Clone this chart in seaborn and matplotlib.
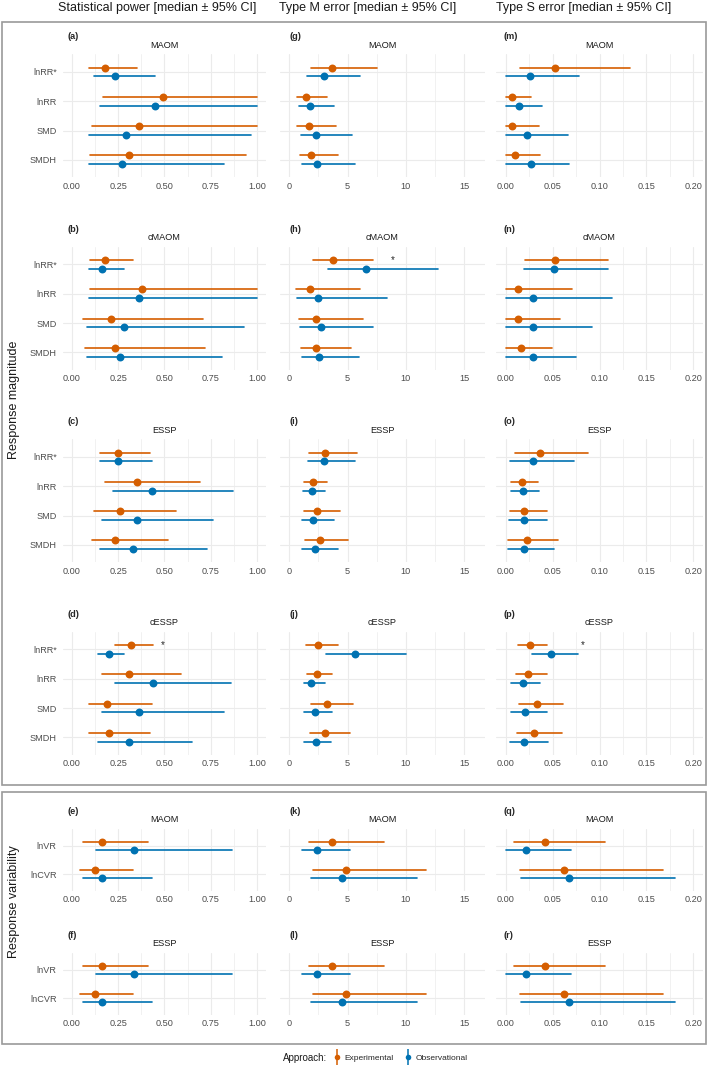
import pandas as pd
import matplotlib.pyplot as plt
from matplotlib.patches import Rectangle
from matplotlib.lines import Line2D
from matplotlib.ticker import MultipleLocator
import seaborn as sns

sns.set_style("white")
plt.rcParams["font.family"] = ["Liberation Sans", "DejaVu Sans"]

# y-axis categories
effects_mag = ["lnRR*", "lnRR", "SMD", "SMDH"]
effects_var = ["lnVR", "lnCVR"]
approaches = ["Experimental", "Observational"]
palette = {"Experimental": "#D55E00", "Observational": "#0072B2"}

# every entry: (median, lower 95% CI, upper 95% CI), one per effect size
# --- statistical power ---
pow_maom_exp = [(0.18, 0.09, 0.35), (0.49, 0.17, 1.00), (0.36, 0.11, 1.00), (0.31, 0.10, 0.94)]
pow_maom_obs = [(0.23, 0.12, 0.45), (0.45, 0.15, 1.00), (0.29, 0.09, 0.97), (0.27, 0.09, 0.82)]
pow_cmaom_exp = [(0.18, 0.10, 0.33), (0.38, 0.10, 1.00), (0.21, 0.06, 0.71), (0.23, 0.07, 0.72)]
pow_cmaom_obs = [(0.16, 0.09, 0.28), (0.36, 0.09, 1.00), (0.28, 0.08, 0.93), (0.26, 0.08, 0.81)]
pow_essp_exp = [(0.25, 0.15, 0.42), (0.35, 0.18, 0.69), (0.26, 0.12, 0.56), (0.23, 0.11, 0.52)]
pow_essp_obs = [(0.25, 0.15, 0.43), (0.43, 0.22, 0.87), (0.35, 0.16, 0.76), (0.33, 0.15, 0.73)]
pow_cessp_exp = [(0.32, 0.23, 0.44), (0.31, 0.16, 0.59), (0.19, 0.09, 0.43), (0.20, 0.09, 0.42)]
pow_cessp_obs = [(0.20, 0.14, 0.28), (0.44, 0.23, 0.86), (0.36, 0.16, 0.82), (0.31, 0.14, 0.65)]

# --- type M error ---
m_maom_exp = [(3.7, 1.9, 7.5), (1.4, 0.7, 3.2), (1.7, 0.7, 4.0), (1.9, 0.9, 4.2)]
m_maom_obs = [(3.0, 1.5, 6.1), (1.8, 0.8, 3.8), (2.3, 1.0, 5.4), (2.4, 1.1, 5.6)]
m_cmaom_exp = [(3.75, 2.0, 7.2), (1.8, 0.55, 6.1), (2.3, 0.8, 6.3), (2.25, 1.0, 5.3)]
m_cmaom_obs = [(6.55, 3.35, 12.8), (2.5, 0.7, 8.4), (2.7, 0.95, 7.2), (2.55, 1.1, 6.0)]
m_essp_exp = [(3.1, 1.7, 5.8), (2.0, 1.3, 3.2), (2.35, 1.25, 4.35), (2.6, 1.35, 5.0)]
m_essp_obs = [(3.0, 1.6, 5.6), (1.95, 1.2, 3.1), (2.05, 1.1, 3.85), (2.2, 1.1, 4.2)]
m_cessp_exp = [(2.45, 1.45, 4.2), (2.4, 1.55, 3.7), (3.25, 1.9, 5.45), (3.05, 1.75, 5.25)]
m_cessp_obs = [(5.6, 3.15, 10.0), (1.9, 1.25, 3.1), (2.2, 1.3, 3.7), (2.25, 1.3, 3.6)]

# --- type S error ---
s_maom_exp = [(0.053, 0.015, 0.133), (0.007, 0.0, 0.027), (0.007, 0.0, 0.035), (0.010, 0.0, 0.037)]
s_maom_obs = [(0.026, 0.0, 0.078), (0.014, 0.0, 0.039), (0.023, 0.0, 0.066), (0.027, 0.0, 0.067)]
s_cmaom_exp = [(0.053, 0.021, 0.109), (0.013, 0.0, 0.071), (0.013, 0.0, 0.058), (0.016, 0.0, 0.049)]
s_cmaom_obs = [(0.052, 0.020, 0.109), (0.029, 0.0, 0.113), (0.029, 0.0, 0.092), (0.029, 0.0, 0.075)]
s_essp_exp = [(0.037, 0.010, 0.088), (0.017, 0.006, 0.034), (0.020, 0.005, 0.044), (0.023, 0.003, 0.056)]
s_essp_obs = [(0.029, 0.005, 0.073), (0.018, 0.006, 0.036), (0.020, 0.004, 0.044), (0.020, 0.002, 0.051)]
s_cessp_exp = [(0.026, 0.013, 0.044), (0.024, 0.011, 0.044), (0.033, 0.014, 0.061), (0.030, 0.012, 0.060)]
s_cessp_obs = [(0.048, 0.028, 0.077), (0.018, 0.006, 0.037), (0.021, 0.006, 0.044), (0.020, 0.005, 0.045)]

# --- response variability (MAOM and ESSP panels show the same values) ---
pow_var_exp = [(0.16, 0.06, 0.41), (0.125, 0.045, 0.33)]
pow_var_obs = [(0.335, 0.13, 0.865), (0.16, 0.06, 0.43)]
m_var_exp = [(3.65, 1.7, 8.1), (4.85, 2.0, 11.7)]
m_var_obs = [(2.35, 1.1, 5.2), (4.55, 1.9, 11.0)]
s_var_exp = [(0.042, 0.009, 0.106), (0.062, 0.015, 0.168)]
s_var_obs = [(0.022, 0.0, 0.070), (0.067, 0.016, 0.181)]

# significant difference markers: (column, row, x value)
stars = [(0, 3, 0.49), (1, 1, 8.9), (2, 3, 0.082)]

col_titles = ["Statistical power [median \u00b1 95% CI]",
              "Type M error [median \u00b1 95% CI]",
              "Type S error [median \u00b1 95% CI]"]
mag_outcomes = ["MAOM", "cMAOM", "ESSP", "cESSP"]
var_outcomes = ["MAOM", "ESSP"]
tags = [["(a)", "(b)", "(c)", "(d)", "(e)", "(f)"],
        ["(g)", "(h)", "(i)", "(j)", "(k)", "(l)"],
        ["(m)", "(n)", "(o)", "(p)", "(q)", "(r)"]]

mag_data = [
    [(pow_maom_exp, pow_maom_obs), (pow_cmaom_exp, pow_cmaom_obs),
     (pow_essp_exp, pow_essp_obs), (pow_cessp_exp, pow_cessp_obs)],
    [(m_maom_exp, m_maom_obs), (m_cmaom_exp, m_cmaom_obs),
     (m_essp_exp, m_essp_obs), (m_cessp_exp, m_cessp_obs)],
    [(s_maom_exp, s_maom_obs), (s_cmaom_exp, s_cmaom_obs),
     (s_essp_exp, s_essp_obs), (s_cessp_exp, s_cessp_obs)],
]
var_data = [(pow_var_exp, pow_var_obs), (m_var_exp, m_var_obs), (s_var_exp, s_var_obs)]

# axis settings per column
xlims = [(-0.05, 1.05), (-0.8, 16.8), (-0.01, 0.21)]
xticks = [[0, 0.25, 0.5, 0.75, 1.0], [0, 5, 10, 15], [0, 0.05, 0.10, 0.15, 0.20]]
xfmt = ["{:.2f}", "{:.0f}", "{:.2f}"]
minor_step = [0.125, 2.5, 0.025]

W, H = 709, 1067
fig = plt.figure(figsize=(W / 100, H / 100), dpi=100)


def px_axes(left, top, width, height):
    return fig.add_axes([left / W, 1 - (top + height) / H, width / W, height / H])


def ftext(x, y, s, **kw):
    return fig.text(x / W, 1 - y / H, s, **kw)


def long_table(exp_vals, obs_vals, effects):
    rows = []
    for approach, vals in zip(approaches, [exp_vals, obs_vals]):
        for eff, (med, lo, hi) in zip(effects, vals):
            for v in (lo, med, hi):
                rows.append({"effect": eff, "approach": approach, "value": v})
    return pd.DataFrame(rows)


def draw_panel(ax, df, effects, col):
    # median point + full-range interval (lo..hi) via percentile interval of width 100
    sns.pointplot(data=df, x="value", y="effect", hue="approach", order=effects,
                  hue_order=approaches, palette=palette, estimator="median",
                  errorbar=("pi", 100), dodge=0.3, linestyle="none", markersize=5.7,
                  markeredgewidth=0, err_kws={"linewidth": 1.2}, legend=False,
                  orient="h", ax=ax)
    n = len(effects)
    ax.set_xlim(*xlims[col])
    ax.set_ylim(n - 1 + 0.6, -0.6)
    ax.set_xticks(xticks[col])
    ax.set_xticklabels([xfmt[col].format(t) for t in xticks[col]])
    ax.xaxis.set_minor_locator(MultipleLocator(minor_step[col]))
    ax.grid(which="major", color="#EBEBEB", linewidth=0.8)
    ax.grid(which="minor", axis="x", color="#EBEBEB", linewidth=0.5)
    ax.set_axisbelow(True)
    for s in ax.spines.values():
        s.set_visible(False)
    ax.tick_params(which="both", length=0, labelsize=6.6, colors="#4D4D4D")
    ax.tick_params(axis="x", pad=3.1)
    ax.tick_params(axis="y", pad=4.3)
    if col > 0:
        ax.tick_params(axis="y", labelleft=False)
    ax.set_xlabel("")
    ax.set_ylabel("")


col_left = [62.7, 280.0, 496.3]
col_width = [203.5, 205.0, 206.4]
tag_left = [68, 290, 503]
mag_tops = [54.4, 246.9, 439.4, 631.9]
mag_h = 123.0
var_tops = [829.0, 953.0]
var_h = 62.0

for c in range(3):
    for r, outcome in enumerate(mag_outcomes):
        top = mag_tops[r]
        ax = px_axes(col_left[c], top, col_width[c], mag_h)
        exp_vals, obs_vals = mag_data[c][r]
        draw_panel(ax, long_table(exp_vals, obs_vals, effects_mag), effects_mag, c)
        ftext(col_left[c] + col_width[c] / 2, top - 9, outcome, ha="center", va="center",
              fontsize=6.6, color="#1A1A1A")
        ftext(tag_left[c], top - 17.5, tags[c][r], ha="left", va="center",
              fontsize=6.6, fontweight="bold")
        for sc, sr, sx in stars:
            if sc == c and sr == r:
                ax.text(sx, -0.15, "*", ha="center", va="center", fontsize=7)
    for r, outcome in enumerate(var_outcomes):
        top = var_tops[r]
        ax = px_axes(col_left[c], top, col_width[c], var_h)
        exp_vals, obs_vals = var_data[c]
        draw_panel(ax, long_table(exp_vals, obs_vals, effects_var), effects_var, c)
        ftext(col_left[c] + col_width[c] / 2, top - 9, outcome, ha="center", va="center",
              fontsize=6.6, color="#1A1A1A")
        ftext(tag_left[c], top - 17.5, tags[c][4 + r], ha="left", va="center",
              fontsize=6.6, fontweight="bold")

# column headers
for cx, title in zip([157, 368, 584], col_titles):
    ftext(cx, 8, title, ha="center", va="center", fontsize=9, color="#1A1A1A")

# group boxes and their labels
for y0, y1 in [(21.7, 785.0), (791.7, 1044.0)]:
    fig.add_artist(Rectangle((2 / W, 1 - y1 / H), 704 / W, (y1 - y0) / H,
                             transform=fig.transFigure, fill=False,
                             edgecolor="#9A9A9A", linewidth=1.2))
ftext(13.5, 400, "Response magnitude", rotation=90, ha="center", va="center",
      fontsize=9, color="#1A1A1A")
ftext(13.5, 902, "Response variability", rotation=90, ha="center", va="center",
      fontsize=9, color="#1A1A1A")

# legend
ftext(283, 1058, "Approach:", ha="left", va="center", fontsize=7, color="#1A1A1A")
handles = [(Line2D([], [], color=palette[a], marker="|", markersize=11, linestyle="none",
                   markeredgewidth=1.1),
            Line2D([], [], color=palette[a], marker="o", markersize=4, linestyle="none",
                   markeredgewidth=0)) for a in approaches]
fig.legend(handles, approaches, loc="center left", bbox_to_anchor=(333 / W, 1 - 1058 / H),
           ncol=2, frameon=False, fontsize=6, handlelength=1.0, handletextpad=0.4,
           columnspacing=1.2, borderpad=0, borderaxespad=0)

fig.savefig("out.png", dpi=100)
